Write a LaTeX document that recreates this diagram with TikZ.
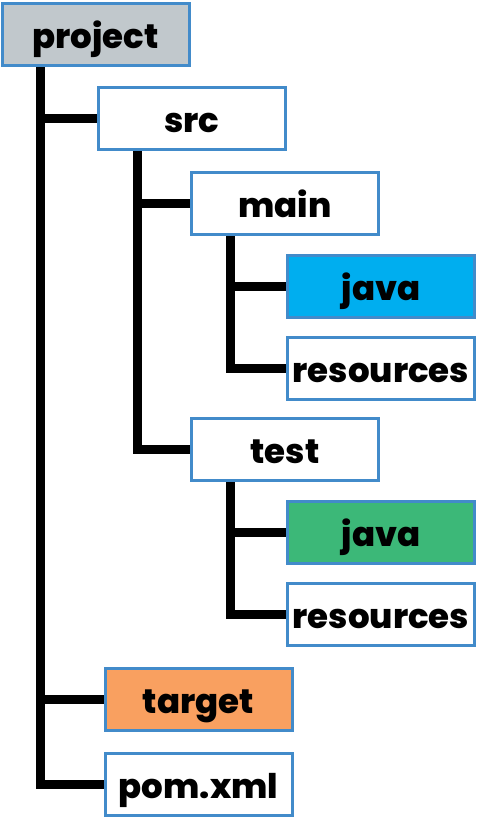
\documentclass[tikz,border=0pt]{standalone}
\usepackage{fontspec}
\setmainfont{Poppins}[BoldFont={Poppins ExtraBold}]
\usepackage{xcolor}
\usepackage{tikz}
\usetikzlibrary{positioning}

\definecolor{boxblue}{HTML}{428BCA}
\definecolor{projgray}{HTML}{C1C8CC}
\definecolor{javablue}{HTML}{00AEEF}
\definecolor{javagreen}{HTML}{3CB878}
\definecolor{targetorange}{HTML}{F9A060}

\begin{document}
\begin{tikzpicture}[x=1pt,y=-1pt]
						\tikzstyle{folder}=[draw=boxblue,line width=3pt,fill=white,minimum width=187pt,minimum height=62pt,inner sep=0pt,text height=28pt,text depth=0pt,font=\fontsize{34}{40}\selectfont\bfseries]
						\tikzstyle{tree}=[line width=9pt,black]
						\useasboundingbox (0,0) rectangle (477,819);
						\node[folder,fill=projgray](project) at (95.5,34.5) {project};
						\node[folder](src) at (192,118.5) {src};
						\node[folder](main) at (285,203.5) {main};
						\node[folder,fill=javablue](mainjava) at (381,286.5) {java};
						\node[folder](mainres) at (381,368.5) {resources};
						\node[folder](test) at (285,449.5) {test};
						\node[folder,fill=javagreen](testjava) at (381,532.5) {java};
						\node[folder](testres) at (381,614.5) {resources};
						\node[folder,fill=targetorange](target) at (198.5,699.5) {target};
						\node[folder](pom) at (198.5,784.5) {pom.xml};
						\coordinate(projectroot) at (40,67);
						\coordinate(srcroot) at (137,151);
						\coordinate(mainroot) at (230,236);
						\coordinate(testroot) at (230,482);
						\draw[tree](projectroot) |- (pom.west);
						\draw[tree](projectroot |- src.west) -- (src.west);
						\draw[tree](projectroot |- target.west) -- (target.west);
						\draw[tree](srcroot) |- (test.west);
						\draw[tree](srcroot |- main.west) -- (main.west);
						\draw[tree](mainroot) |- (mainres.west);
						\draw[tree](mainroot |- mainjava.west) -- (mainjava.west);
						\draw[tree](testroot) |- (testres.west);
						\draw[tree](testroot |- testjava.west) -- (testjava.west);
					\end{tikzpicture}
\end{document}
